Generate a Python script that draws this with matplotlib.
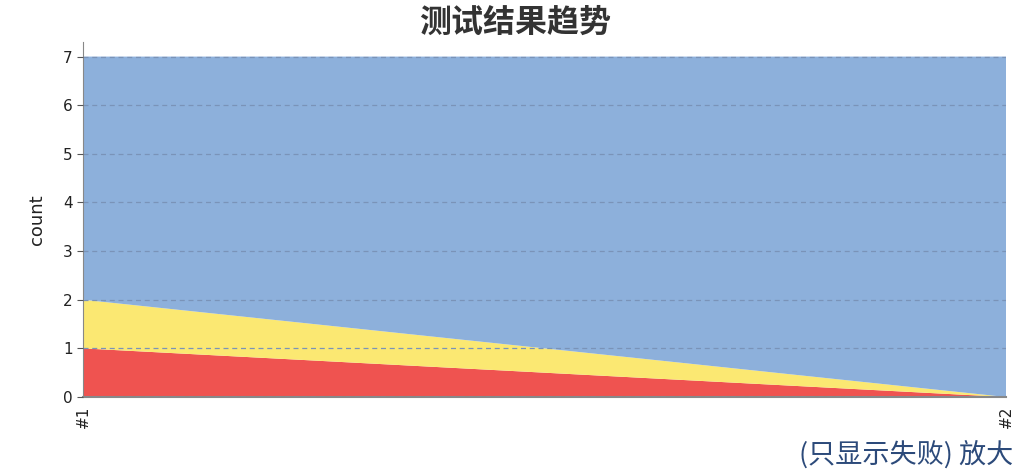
import matplotlib
matplotlib.use("Agg")
import matplotlib.pyplot as plt
import numpy as np

plt.rcParams['font.family'] = ['Noto Sans CJK SC', 'DejaVu Sans']

builds = ["#1", "#2"]
failed = [1, 0]
skipped = [1, 0]
passed = [5, 7]
yticks = [0, 1, 2, 3, 4, 5, 6, 7]

fig = plt.figure(figsize=(10.31, 4.71), dpi=100)
ax = fig.add_axes([83/1031, 1 - 397/471, (1006-83)/1031, (397-42)/471])

x = np.arange(len(builds))
ax.stackplot(x, failed, skipped, passed,
             colors=["#ef5350", "#fbe872", "#8db0db"], linewidth=0)

ax.set_xlim(0, len(builds) - 1)
ax.set_ylim(0, 7.3)
ax.set_yticks(yticks)
ax.set_yticklabels([str(v) for v in yticks], family=['DejaVu Sans'], fontsize=11, color="#222222")
ax.set_xticks(x)
ax.set_xticklabels(builds, rotation=90, fontsize=11, family=['DejaVu Sans'], color="#222222")
ax.tick_params(axis='y', colors="#555555", labelcolor="#222222", length=4)
ax.tick_params(axis='x', length=0, pad=6)
ax.grid(axis='y', linestyle=(0, (4, 3)), color="#7a93b8", linewidth=0.9)
ax.set_axisbelow(False)
ax.set_ylabel("count", fontsize=13, color="#222222", labelpad=12, family=['DejaVu Sans'])
for s in ["top", "right"]:
    ax.spines[s].set_visible(False)
ax.spines["left"].set_color("#888888")
ax.spines["bottom"].set_color("#888888")
ax.spines["bottom"].set_linewidth(1.5)

fig.text(515/1031, 1 - 23/471, "测试结果趋势", ha="center", va="center",
         fontsize=23, fontweight="bold", color="#333333")
fig.text(1013/1031, 2/471, "(只显示失败) 放大", ha="right", va="bottom",
         fontsize=19.5, color="#2c4a7a")

fig.savefig("out.png", dpi=100)
